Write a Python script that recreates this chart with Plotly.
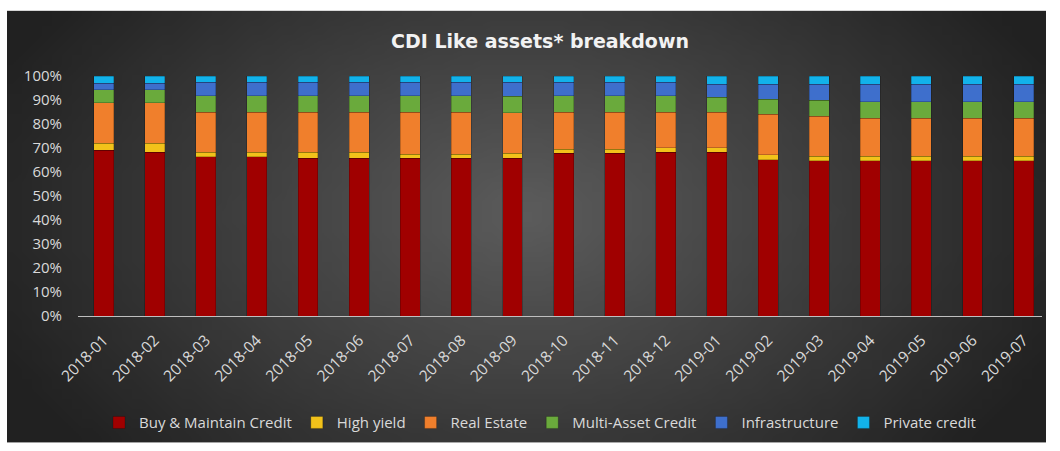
import base64
import struct
import zlib
import plotly.graph_objects as go

# ---------------- data ----------------
months = ["2018-01", "2018-02", "2018-03", "2018-04", "2018-05", "2018-06", "2018-07",
          "2018-08", "2018-09", "2018-10", "2018-11", "2018-12", "2019-01", "2019-02",
          "2019-03", "2019-04", "2019-05", "2019-06", "2019-07"]
buy_maintain = [69.0, 68.2, 66.4, 66.4, 65.7, 65.7, 65.7, 65.7, 65.7, 67.8, 67.8, 68.2,
                68.2, 65.2, 64.6, 64.6, 64.6, 64.6, 64.6]
high_yield = [3.0, 3.8, 1.8, 1.8, 2.5, 2.5, 1.8, 1.8, 2.1, 1.7, 1.7, 2.0,
              1.9, 1.9, 1.9, 1.9, 1.9, 1.9, 1.9]
real_estate = [16.8, 16.8, 16.7, 16.7, 16.7, 16.7, 17.4, 17.4, 16.8, 15.4, 15.4, 14.7,
               14.8, 16.9, 16.8, 15.9, 15.9, 15.9, 15.9]
multi_asset = [5.4, 5.4, 6.9, 6.9, 6.9, 6.9, 6.9, 6.9, 6.9, 6.9, 6.9, 6.9,
               6.3, 6.4, 6.5, 6.9, 6.9, 6.9, 6.9]
infrastructure = [2.8, 2.8, 5.7, 5.7, 5.7, 5.7, 5.7, 5.7, 6.0, 5.7, 5.7, 5.7,
                  5.3, 6.1, 6.7, 7.2, 7.2, 7.2, 7.2]
private_credit = [3.0, 3.0, 2.5, 2.5, 2.5, 2.5, 2.5, 2.5, 2.5, 2.5, 2.5, 2.5,
                  3.5, 3.5, 3.5, 3.5, 3.5, 3.5, 3.5]

series_names = ["Buy & Maintain Credit", "High yield", "Real Estate",
                "Multi-Asset Credit", "Infrastructure", "Private credit"]
series_values = [buy_maintain, high_yield, real_estate, multi_asset, infrastructure, private_credit]
series_colors = ["#a00000", "#f2c21a", "#f07f2c", "#6aaa3c", "#3e6fcc", "#12b2ea"]
y_ticks = [0, 10, 20, 30, 40, 50, 60, 70, 80, 90, 100]
y_tick_labels = ["0%", "10%", "20%", "30%", "40%", "50%", "60%", "70%", "80%", "90%", "100%"]


# ------------- background gradient (radial, Excel-like) -------------
def gradient_png(w, h):
    rows = []
    cx, cy = w * 0.5, h * 0.47
    rx, ry = w * 0.55, h * 0.85
    c_in, c_out = 92, 33
    for j in range(h):
        row = bytearray()
        for i in range(w):
            t = (((i + 0.5 - cx) / rx) ** 2 + ((j + 0.5 - cy) / ry) ** 2) ** 0.5
            t = min(1.0, t)
            v = int(round(c_in + (c_out - c_in) * t))
            row += bytes((v, v, v))
        rows.append(b"\x00" + bytes(row))
    raw = b"".join(rows)

    def chunk(tag, data):
        return (struct.pack(">I", len(data)) + tag + data
                + struct.pack(">I", zlib.crc32(tag + data) & 0xffffffff))

    png = (b"\x89PNG\r\n\x1a\n"
           + chunk(b"IHDR", struct.pack(">IIBBBBB", w, h, 8, 2, 0, 0, 0))
           + chunk(b"IDAT", zlib.compress(raw, 9))
           + chunk(b"IEND", b""))
    return "data:image/png;base64," + base64.b64encode(png).decode()


bg = gradient_png(104, 44)

# ---------------- figure ----------------
fig = go.Figure()
for name, vals, col in zip(series_names, series_values, series_colors):
    fig.add_trace(go.Bar(
        x=months, y=vals, name=name,
        marker=dict(color=col, line=dict(color="rgba(0,0,0,0.35)", width=0.6)),
    ))

W, H = 1060, 451
ml, mr, mt, mb = 78, 18, 76, 132
pw, ph = W - ml - mr, H - mt - mb

def px_x(p):
    return (p - ml) / pw

def px_y(p):
    return (H - mb - p) / ph

fig.update_layout(
    width=W, height=H,
    margin=dict(l=ml, r=mr, t=mt, b=mb),
    barmode="stack",
    bargap=0.61,
    paper_bgcolor="white",
    plot_bgcolor="rgba(0,0,0,0)",
    font=dict(family="Open Sans", color="#d9d9d9", size=14),
    title=dict(text="<b>CDI Like assets* breakdown</b>",
               font=dict(family="DejaVu Sans", size=19, color="#f2f2f2"),
               x=540 / W, xanchor="center", y=1 - 41 / H, yanchor="middle"),
    xaxis=dict(
        type="category", range=[-0.5, 18.36],
        showline=True, linecolor="#bfbfbf", linewidth=1.2,
        showgrid=False, zeroline=False, ticks="",
        tickangle=-45, ticklabelstandoff=8,
        tickfont=dict(family="Open Sans", size=15.5, color="#d9d9d9"),
    ),
    yaxis=dict(
        range=[0, 100], tickmode="array", tickvals=y_ticks, ticktext=y_tick_labels,
        showgrid=False, zeroline=False, showline=False, ticks="",
        ticklabelstandoff=15,
        tickfont=dict(family="Open Sans", size=15, color="#d9d9d9"),
    ),
    legend=dict(
        orientation="h", x=px_x(540), xanchor="center",
        y=px_y(427), yanchor="middle",
        font=dict(family="Open Sans", size=15, color="#d9d9d9"),
        itemwidth=30, bgcolor="rgba(0,0,0,0)", traceorder="normal",
    ),
    images=[dict(
        source=bg, xref="paper", yref="paper",
        x=px_x(7), y=px_y(10), sizex=(1046 - 7) / pw, sizey=(447 - 10) / ph,
        xanchor="left", yanchor="top", sizing="stretch", layer="below",
    )],
)

fig.write_html("out.html")
